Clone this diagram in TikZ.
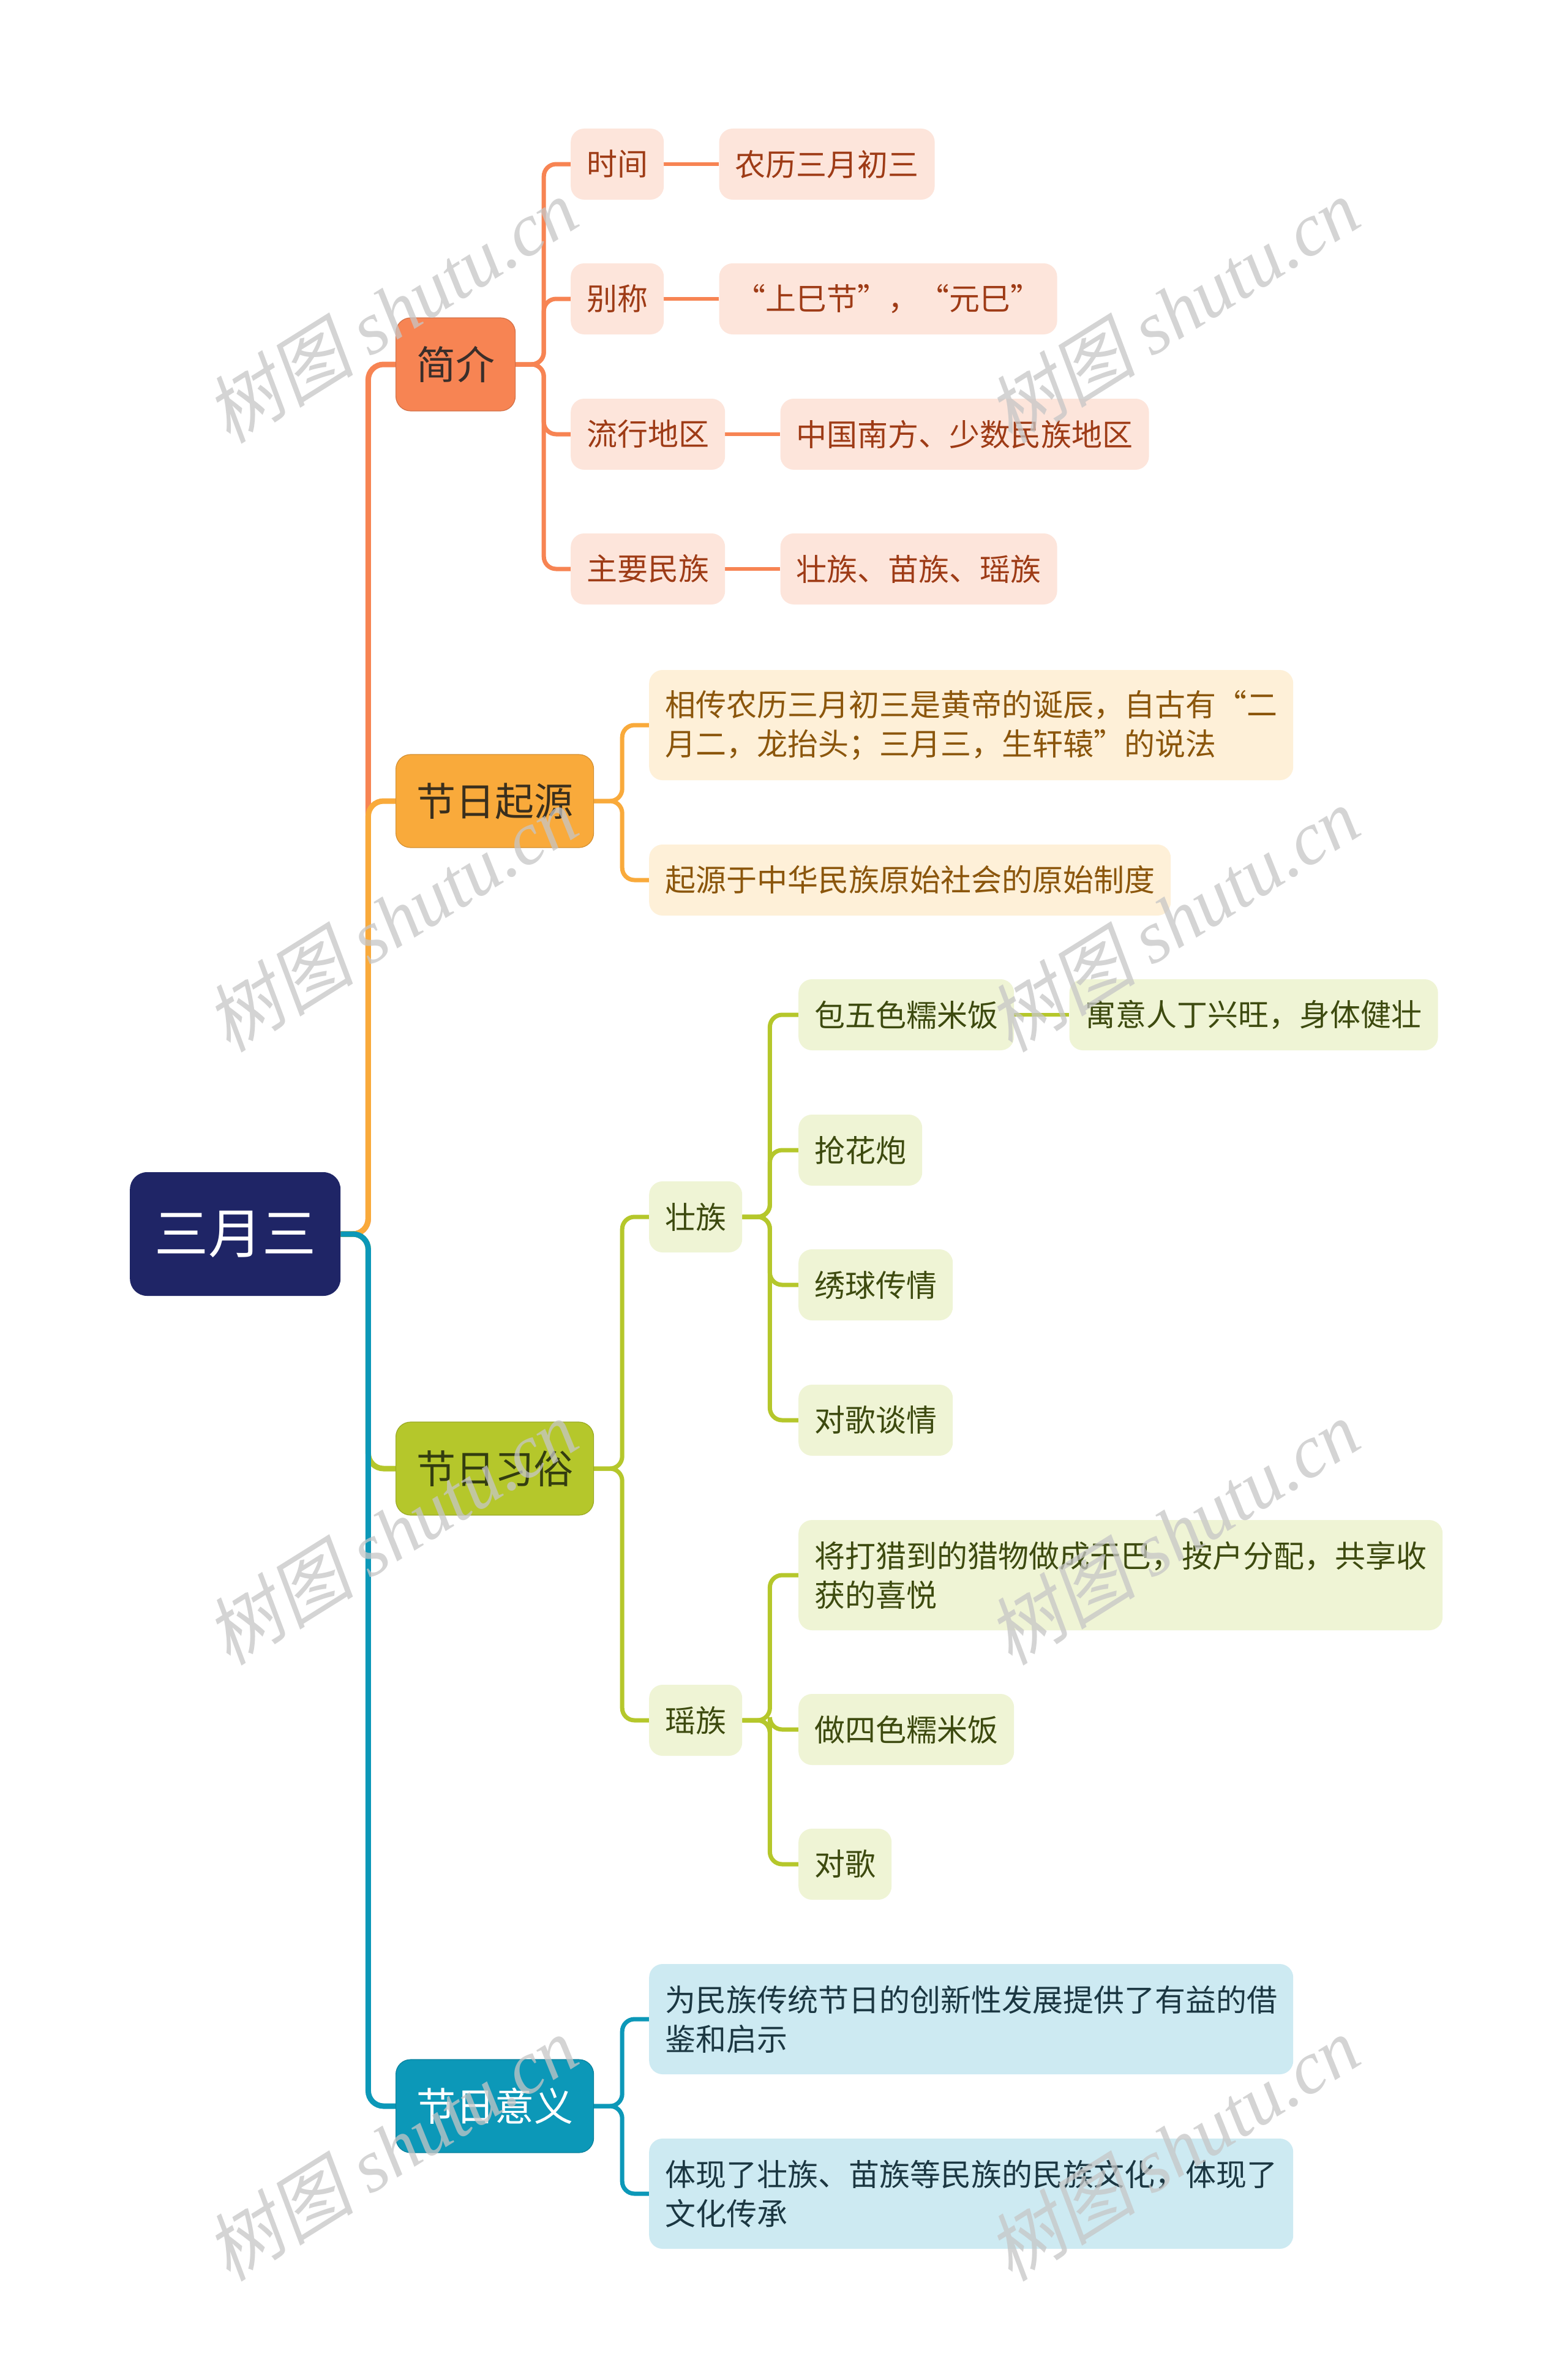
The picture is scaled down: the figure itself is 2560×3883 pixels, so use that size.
\documentclass[tikz,border=0pt]{standalone}
\usepackage{fontspec}
\usetikzlibrary{positioning}
\setmainfont{Noto Sans CJK SC}
\newfontfamily\wmcjk[FakeSlant=0.2]{Noto Sans CJK SC}
\newfontfamily\wmlat{Liberation Serif}
\pgfdeclarelayer{background}
\pgfdeclarelayer{wmlayer}
\pgfsetlayers{background,main,wmlayer}
\definecolor{rootc}{HTML}{1F2566}
\definecolor{ca}{HTML}{F78453}
\definecolor{cb}{HTML}{F9AA3B}
\definecolor{cc}{HTML}{B5C72B}
\definecolor{cd}{HTML}{0C98B8}
\definecolor{fa}{HTML}{FDE5DB}
\definecolor{fb}{HTML}{FEF0D8}
\definecolor{fc}{HTML}{EFF4D5}
\definecolor{fd}{HTML}{CDEAF2}
\definecolor{ta}{HTML}{9E3B16}
\definecolor{tb}{HTML}{8B560C}
\definecolor{tc}{HTML}{3D4A0F}
\definecolor{td}{HTML}{1B3742}
\definecolor{ka}{HTML}{3A2E2A}
\definecolor{kb}{HTML}{3A2F1D}
\definecolor{kc}{HTML}{333D10}
\begin{document}
\begin{tikzpicture}[x=1pt,y=-1pt,
  rootbox/.style={fill=rootc, text=white, rounded corners=28pt, anchor=west, inner xsep=40pt, inner ysep=0pt, minimum height=202pt, font=\fontsize{88}{100}\selectfont},
  mainbox/.style={rounded corners=24pt, anchor=west, inner xsep=33.5pt, inner ysep=0pt, minimum height=152pt, line width=1.2pt, font=\fontsize{64}{76}\selectfont},
  subbox/.style={rounded corners=22pt, anchor=west, inner xsep=26pt, inner ysep=0pt, minimum height=116pt, font=\fontsize{50}{64}\selectfont, align=left},
  tallbox/.style={subbox, minimum height=180pt},
  ma/.style={mainbox, fill=ca, draw=ca!85!black, text=ka},
  mb/.style={mainbox, fill=cb, draw=cb!85!black, text=kb},
  mc/.style={mainbox, fill=cc, draw=cc!85!black, text=kc},
  md/.style={mainbox, fill=cd, draw=cd!85!black, text=white},
  sa/.style={subbox, fill=fa, text=ta},
  sb/.style={subbox, fill=fb, text=tb},
  sc/.style={subbox, fill=fc, text=tc},
  sd/.style={subbox, fill=fd, text=td},
  trunkline/.style={line width=9pt, rounded corners=25pt},
  subline/.style={line width=7pt, rounded corners=20pt},
  leafline/.style={line width=6pt},
  wm/.style={text=gray!45, opacity=0.75, rotate=32, font=\fontsize{122}{122}\selectfont}
]
\useasboundingbox (0,0) rectangle (2560,3883);

% root
\node[rootbox] (root) at (212,2015) {三月三};

% level 1
\node[ma] (jj) at (646,595) {简介};
\node[mb] (qy) at (646,1308) {节日起源};
\node[mc] (xs) at (646,2398) {节日习俗};
\node[md] (yy) at (646,3439) {节日意义};

% jianjie
\node[sa] (sj) at (932,268) {时间};
\node[sa] (bc) at (932,488) {别称};
\node[sa] (lx) at (932,709) {流行地区};
\node[sa] (zy) at (932,929) {主要民族};
\node[sa, right=90pt of sj] (sj2) {农历三月初三};
\node[sa, right=90pt of bc, minimum width=552pt, align=center] (bc2) {“上巳节”，“元巳”};
\node[sa, right=90pt of lx] (lx2) {中国南方、少数民族地区};
\node[sa, right=90pt of zy] (zy2) {壮族、苗族、瑶族};

% qiyuan
\node[tallbox, fill=fb, text=tb] (q1) at (1060,1184) {相传农历三月初三是黄帝的诞辰，自古有“二\\月二，龙抬头；三月三，生轩辕”的说法};
\node[sb] (q2) at (1060,1437) {起源于中华民族原始社会的原始制度};

% xisu
\node[sc] (zz) at (1060,1987) {壮族};
\node[sc] (yz) at (1060,2809) {瑶族};
\node[sc] (z1) at (1304,1657) {包五色糯米饭};
\node[sc, right=90pt of z1] (z1b) {寓意人丁兴旺，身体健壮};
\node[sc] (z2) at (1304,1878) {抢花炮};
\node[sc] (z3) at (1304,2098) {绣球传情};
\node[sc] (z4) at (1304,2319) {对歌谈情};
\node[tallbox, fill=fc, text=tc] (y1) at (1304,2572) {将打猎到的猎物做成干巴，按户分配，共享收\\获的喜悦};
\node[sc] (y2) at (1304,2824) {做四色糯米饭};
\node[sc] (y3) at (1304,3044) {对歌};

% yiyi
\node[tallbox, fill=fd, text=td] (d1) at (1060,3297) {为民族传统节日的创新性发展提供了有益的借\\鉴和启示};
\node[tallbox, fill=fd, text=td] (d2) at (1060,3582) {体现了壮族、苗族等民族的民族文化，体现了\\文化传承};

\begin{pgfonlayer}{background}
\fill[white] (0,0) rectangle (2560,3883);
% trunk
\draw[trunkline, ca] (root.east) -- ([xshift=45pt]root.east) |- (jj.west);
\draw[trunkline, cb] (root.east) -- ([xshift=45pt]root.east) |- (qy.west);
\draw[trunkline, cc] (root.east) -- ([xshift=45pt]root.east) |- (xs.west);
\draw[trunkline, cd] (root.east) -- ([xshift=45pt]root.east) |- (yy.west);
% jianjie
\foreach \c in {sj,bc,lx,zy}
  \draw[subline, ca] (jj.east) -- ([xshift=46pt]jj.east) |- (\c.west);
\draw[leafline, ca] (sj.east) -- (sj2.west);
\draw[leafline, ca] (bc.east) -- (bc2.west);
\draw[leafline, ca] (lx.east) -- (lx2.west);
\draw[leafline, ca] (zy.east) -- (zy2.west);
% qiyuan
\foreach \c in {q1,q2}
  \draw[subline, cb] (qy.east) -- ([xshift=46pt]qy.east) |- (\c.west);
% xisu
\foreach \c in {zz,yz}
  \draw[subline, cc] (xs.east) -- ([xshift=46pt]xs.east) |- (\c.west);
\foreach \c in {z1,z2,z3,z4}
  \draw[subline, cc] (zz.east) -- ([xshift=45pt]zz.east) |- (\c.west);
\foreach \c in {y1,y2,y3}
  \draw[subline, cc] (yz.east) -- ([xshift=45pt]yz.east) |- (\c.west);
\draw[leafline, cc] (z1.east) -- (z1b.west);
% yiyi
\foreach \c in {d1,d2}
  \draw[subline, cd] (yy.east) -- ([xshift=46pt]yy.east) |- (\c.west);
\end{pgfonlayer}

\begin{pgfonlayer}{wmlayer}
\foreach \i/\px/\py in {1/639/507,2/1916/507,3/639/1501,4/1916/1501,5/639/2502,6/1916/2502,7/639/3508,8/1916/3508}
  \node[wm] (wm\i) at (\px,\py) {{\wmcjk 树图} {\wmlat\itshape shutu.cn}};
\end{pgfonlayer}
\end{tikzpicture}
\end{document}
